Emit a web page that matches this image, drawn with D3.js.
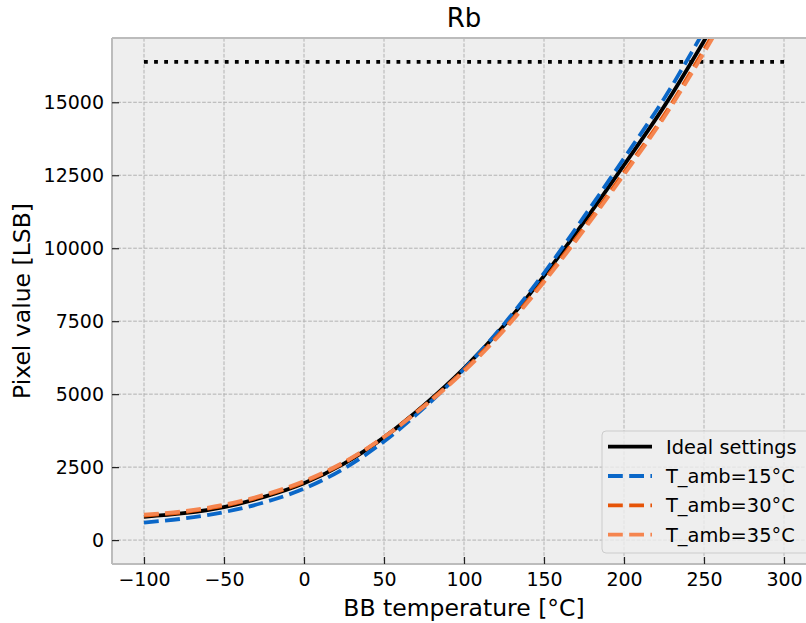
<!DOCTYPE html>
<html>
<head>
<meta charset="utf-8">
<script src="https://cdn.jsdelivr.net/npm/d3@7"></script>
<style>
  html, body { margin: 0; padding: 0; background: #ffffff; }
  svg { display: block; font-family: "DejaVu Sans", sans-serif; }
</style>
</head>
<body>
<svg id="chart" width="806" height="623"></svg>
<script>
// ---- data ----
const temps  = [-100, -75, -50, -25, 0, 25, 50, 75, 100, 125, 150, 175, 200, 225, 250, 275];
const ideal  = [800, 920, 1130, 1480, 1950, 2620, 3520, 4620, 5880, 7350, 9050, 10900, 12850, 14850, 17100, 19500];
const amb15  = [600, 740, 960, 1290, 1760, 2450, 3380, 4530, 5860, 7400, 9150, 11080, 13080, 15120, 17450, 19900];
const amb30  = [840, 960, 1180, 1520, 1990, 2650, 3530, 4600, 5820, 7240, 8900, 10700, 12600, 14550, 16800, 19200];
const amb35  = [870, 990, 1210, 1550, 2020, 2670, 3530, 4580, 5780, 7190, 8840, 10630, 12520, 14480, 16700, 19100];
const satLevel = 16383;
const satTemps = [-100, 300];
const seriesNames = ["Ideal settings", "T_amb=15°C", "T_amb=30°C", "T_amb=35°C"];
const xTicks = [-100, -50, 0, 50, 100, 150, 200, 250, 300];
const yTicks = [0, 2500, 5000, 7500, 10000, 12500, 15000];
const titleText = "Rb";
const xLabel = "BB temperature [°C]";
const yLabel = "Pixel value [LSB]";

// ---- layout ----
const svg = d3.select("#chart");
const L = 112, R = 816, T = 38, B = 564;
const x = d3.scaleLinear().domain([-120, 320]).range([L, R]);
const y = d3.scaleLinear().domain([-819.15, 17202.15]).range([B, T]);

const colors = ["#000000", "#0a67c8", "#e65408", "#f5854f"];
const dashes = [null, "14.8,6.4", "14.8,6.4", "14.8,6.4"];
const lw = 3.8;

// background
svg.append("rect").attr("x", L).attr("y", T).attr("width", R - L).attr("height", B - T)
  .attr("fill", "#eeeeee");

// grid
const grid = svg.append("g");
grid.selectAll("line.gx").data(xTicks).join("line")
  .attr("x1", d => x(d)).attr("x2", d => x(d)).attr("y1", T).attr("y2", B)
  .attr("stroke", "#b2b2b2").attr("stroke-width", 1).attr("stroke-dasharray", "3.7,1.6");
grid.selectAll("line.gy").data(yTicks).join("line")
  .attr("x1", L).attr("x2", R).attr("y1", d => y(d)).attr("y2", d => y(d))
  .attr("stroke", "#b2b2b2").attr("stroke-width", 1).attr("stroke-dasharray", "3.7,1.6");

// clip
svg.append("defs").append("clipPath").attr("id", "clip")
  .append("rect").attr("x", L).attr("y", T).attr("width", R - L).attr("height", B - T);
const plot = svg.append("g").attr("clip-path", "url(#clip)");

// saturation line
plot.append("line")
  .attr("x1", x(satTemps[0])).attr("x2", x(satTemps[1]))
  .attr("y1", y(satLevel)).attr("y2", y(satLevel))
  .attr("stroke", "#000").attr("stroke-width", lw).attr("stroke-dasharray", "3.8,6.3");

const line = d3.line().x(d => x(d[0])).y(d => y(d[1])).curve(d3.curveCatmullRom);
const allSeries = [ideal, amb15, amb30, amb35];
allSeries.forEach((vals, i) => {
  const p = plot.append("path")
    .datum(temps.map((t, j) => [t, vals[j]]))
    .attr("d", line)
    .attr("fill", "none")
    .attr("stroke", colors[i])
    .attr("stroke-width", lw);
  if (dashes[i]) p.attr("stroke-dasharray", dashes[i]);
});

// spines
svg.append("line").attr("x1", L).attr("x2", L).attr("y1", T).attr("y2", B)
  .attr("stroke", "#bcbcbc").attr("stroke-width", 2);
svg.append("line").attr("x1", L).attr("x2", R).attr("y1", B).attr("y2", B)
  .attr("stroke", "#bcbcbc").attr("stroke-width", 2);
svg.append("line").attr("x1", L).attr("x2", R).attr("y1", T).attr("y2", T)
  .attr("stroke", "#bcbcbc").attr("stroke-width", 2);

// axes
const fmt = d3.format("d");
const xAxis = d3.axisBottom(x).tickValues(xTicks).tickFormat(fmt).tickSize(-7).tickPadding(9);
const yAxis = d3.axisLeft(y).tickValues(yTicks).tickFormat(fmt).tickSize(-7).tickPadding(8);
const gx = svg.append("g").attr("transform", `translate(0,${B})`).call(xAxis);
const gy = svg.append("g").attr("transform", `translate(${L},0)`).call(yAxis);
[gx, gy].forEach(g => {
  g.select(".domain").remove();
  g.selectAll(".tick line").attr("stroke", "#222").attr("stroke-width", 1.2);
  g.selectAll(".tick text").attr("fill", "#000").attr("font-size", 19)
    .attr("font-family", "DejaVu Sans");
});

// labels
svg.append("text").attr("x", 464).attr("y", 616).attr("text-anchor", "middle")
  .attr("font-size", 23.5).attr("fill", "#000").text(xLabel);
svg.append("text").attr("transform", "translate(30,301) rotate(-90)").attr("text-anchor", "middle")
  .attr("font-size", 23.5).attr("fill", "#000").text(yLabel);
svg.append("text").attr("x", 464).attr("y", 27).attr("text-anchor", "middle")
  .attr("font-size", 26).attr("fill", "#000").text(titleText);

// legend
const lg = svg.append("g");
lg.append("rect").attr("x", 602).attr("y", 431).attr("width", 212).attr("height", 122)
  .attr("rx", 4).attr("fill", "#eeeeee").attr("fill-opacity", 0.8)
  .attr("stroke", "#cccccc").attr("stroke-width", 1);
const rowsY = [446.7, 476, 505.3, 534.7];
seriesNames.forEach((name, i) => {
  const l = lg.append("line").attr("x1", 608).attr("x2", 652)
    .attr("y1", rowsY[i]).attr("y2", rowsY[i])
    .attr("stroke", colors[i]).attr("stroke-width", lw);
  if (dashes[i]) l.attr("stroke-dasharray", dashes[i]);
  lg.append("text").attr("x", 666).attr("y", rowsY[i] + 6.8)
    .attr("font-size", 19.4).attr("fill", "#000").text(name);
});
</script>
</body>
</html>
